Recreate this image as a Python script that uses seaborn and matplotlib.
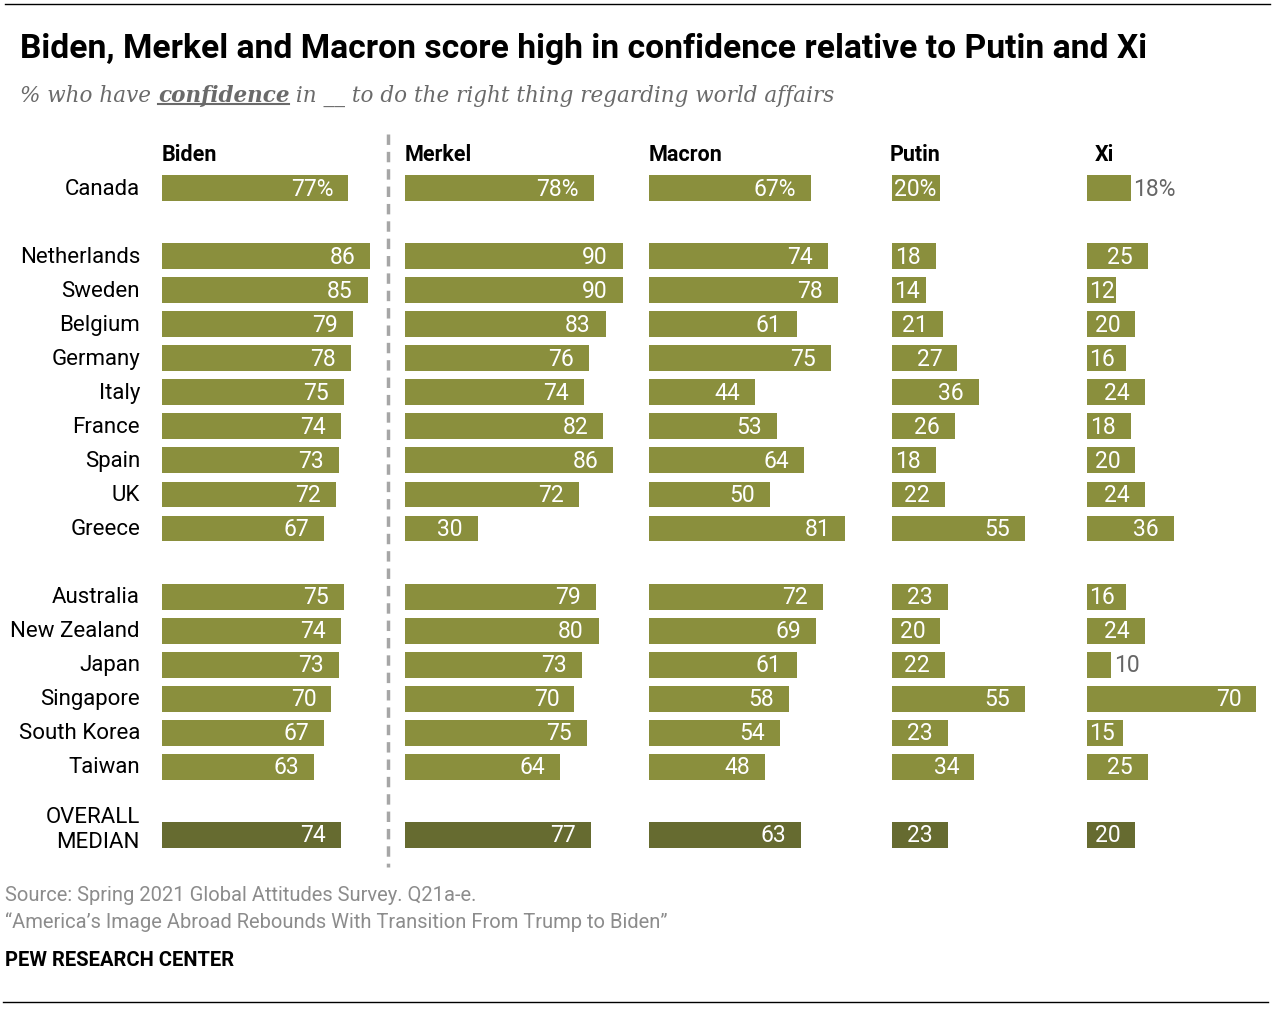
import matplotlib
matplotlib.use("Agg")
import matplotlib.pyplot as plt
import seaborn as sns
import pandas as pd
from matplotlib.lines import Line2D

# data
groups = [
    ["Canada"],
    ["Netherlands", "Sweden", "Belgium", "Germany", "Italy", "France", "Spain", "UK", "Greece"],
    ["Australia", "New Zealand", "Japan", "Singapore", "South Korea", "Taiwan"],
    ["OVERALL\nMEDIAN"],
]
leaders = ["Biden", "Merkel", "Macron", "Putin", "Xi"]
biden = [77, 86, 85, 79, 78, 75, 74, 73, 72, 67, 75, 74, 73, 70, 67, 63, 74]
merkel = [78, 90, 90, 83, 76, 74, 82, 86, 72, 30, 79, 80, 73, 70, 75, 64, 77]
macron = [67, 74, 78, 61, 75, 44, 53, 64, 50, 81, 72, 69, 61, 58, 54, 48, 63]
putin = [20, 18, 14, 21, 27, 36, 26, 18, 22, 55, 23, 20, 22, 55, 23, 34, 23]
xi = [18, 25, 12, 20, 16, 24, 18, 20, 24, 36, 16, 24, 10, 70, 15, 25, 20]

countries, pos = [], []
p = 0
for g in groups:
    for c in g:
        countries.append(c)
        pos.append(p)
        p += 1
    p += 1

df = pd.DataFrame({"country": countries, "pos": pos,
                   "Biden": biden, "Merkel": merkel, "Macron": macron,
                   "Putin": putin, "Xi": xi})
df["kind"] = ["median" if "MEDIAN" in c else "country" for c in df.country]

W, H = 1280, 1012
BAR = "#8a8f3d"
DARK = "#666b30"
GREY = "#666666"
PX = 2.42  # pixels per percentage point
FONT = "Roboto"

fig = plt.figure(figsize=(W / 100, H / 100), dpi=100)
fig.patch.set_facecolor("white")
r = fig.canvas.get_renderer()

panel_left = [162, 405, 649, 892, 1087]
panel_right = [405, 649, 892, 1087, 1275]
head_dx = [0, 0, 0, -2, 8]
top_px, bot_px = 172, 853
ymax = pos[-1] + 0.5

axes = []
for i, name in enumerate(leaders):
    wpx = panel_right[i] - panel_left[i]
    ax = fig.add_axes([panel_left[i] / W, 1 - bot_px / H, wpx / W, (bot_px - top_px) / H])
    sns.barplot(data=df, x=name, y="pos", hue="kind", orient="h", native_scale=True,
                palette={"country": BAR, "median": DARK}, dodge=False, legend=False,
                width=0.76, saturation=1, ax=ax)
    ax.set_xlim(0, wpx / PX)
    ax.set_ylim(ymax, -0.5)
    ax.axis("off")
    for v, y, c in zip(df[name], df.pos, df.country):
        lab = f"{v}%" if c == "Canada" else str(v)
        t = ax.text(0, y, lab, color="white", fontsize=16.5, family=FONT,
                    ha="right", va="center")
        tw = t.get_window_extent(r).width
        bar_px = v * PX
        if bar_px - 15 - tw >= 2:
            t.set_x(v - 15 / PX)
        elif tw + 3 <= bar_px:
            t.set_x(2 / PX)
            t.set_ha("left")
        else:
            t.set_x(v + 3 / PX)
            t.set_ha("left")
            t.set_color(GREY)
    ax.text(head_dx[i] / PX, -1.0, name, fontsize=15.5, fontweight="bold", family=FONT,
            ha="left", va="center")
    axes.append(ax)

# country labels
ax0 = axes[0]
lx = -(162 - 140) / (panel_right[0] - panel_left[0])
for c, y in zip(df.country, df.pos):
    if "\n" in c:
        ax0.text(lx, y + 0.5, c, transform=ax0.get_yaxis_transform(), fontsize=16,
                 family=FONT, ha="right", va="bottom", linespacing=1.25)
    else:
        ax0.text(lx, y, c, transform=ax0.get_yaxis_transform(), fontsize=16,
                 family=FONT, ha="right", va="center")

# dashed separator
fig.add_artist(Line2D([388 / W, 388 / W], [1 - 135 / H, 1 - 868 / H], color="#a6a6a6",
                      lw=2.5, dashes=(3, 2), solid_capstyle="round"))

# title and subtitle
fig.text(20 / W, 1 - 49 / H, "Biden, Merkel and Macron score high in confidence relative to Putin and Xi",
         fontsize=24.2, fontweight="bold", family=FONT, va="center", ha="left")

sub_y = 1 - 96 / H
x = 20 / W
parts = [("% who have ", "normal"), ("confidence", "bold"),
         (" in __ to do the right thing regarding world affairs", "normal")]
for txt, wt in parts:
    t = fig.text(x, sub_y, txt, fontsize=15.5, style="italic", fontweight=wt,
                 family="DejaVu Serif", color="#6a6a6a", va="center", ha="left")
    bb = t.get_window_extent(r)
    if wt == "bold":
        uy = (bb.y0 + 2) / H
        fig.add_artist(Line2D([bb.x0 / W, bb.x1 / W], [uy, uy], color="#6a6a6a", lw=1.5))
    x = bb.x1 / W

# footer
fig.text(5 / W, 1 - 896 / H, "Source: Spring 2021 Global Attitudes Survey. Q21a-e.",
         fontsize=14.5, color="#8c8c8c", family=FONT, va="center")
fig.text(5 / W, 1 - 922 / H, "\u201cAmerica\u2019s Image Abroad Rebounds With Transition From Trump to Biden\u201d",
         fontsize=14.5, color="#8c8c8c", family=FONT, va="center")
fig.text(5 / W, 1 - 961 / H, "PEW RESEARCH CENTER", fontsize=14.5, fontweight="bold",
         family=FONT, va="center")

fig.add_artist(Line2D([5 / W, 1270 / W], [1 - 5 / H, 1 - 5 / H], color="black", lw=1))
fig.add_artist(Line2D([3 / W, 1268 / W], [1 - 1003 / H, 1 - 1003 / H], color="black", lw=1))

fig.savefig("out.png", dpi=100)
